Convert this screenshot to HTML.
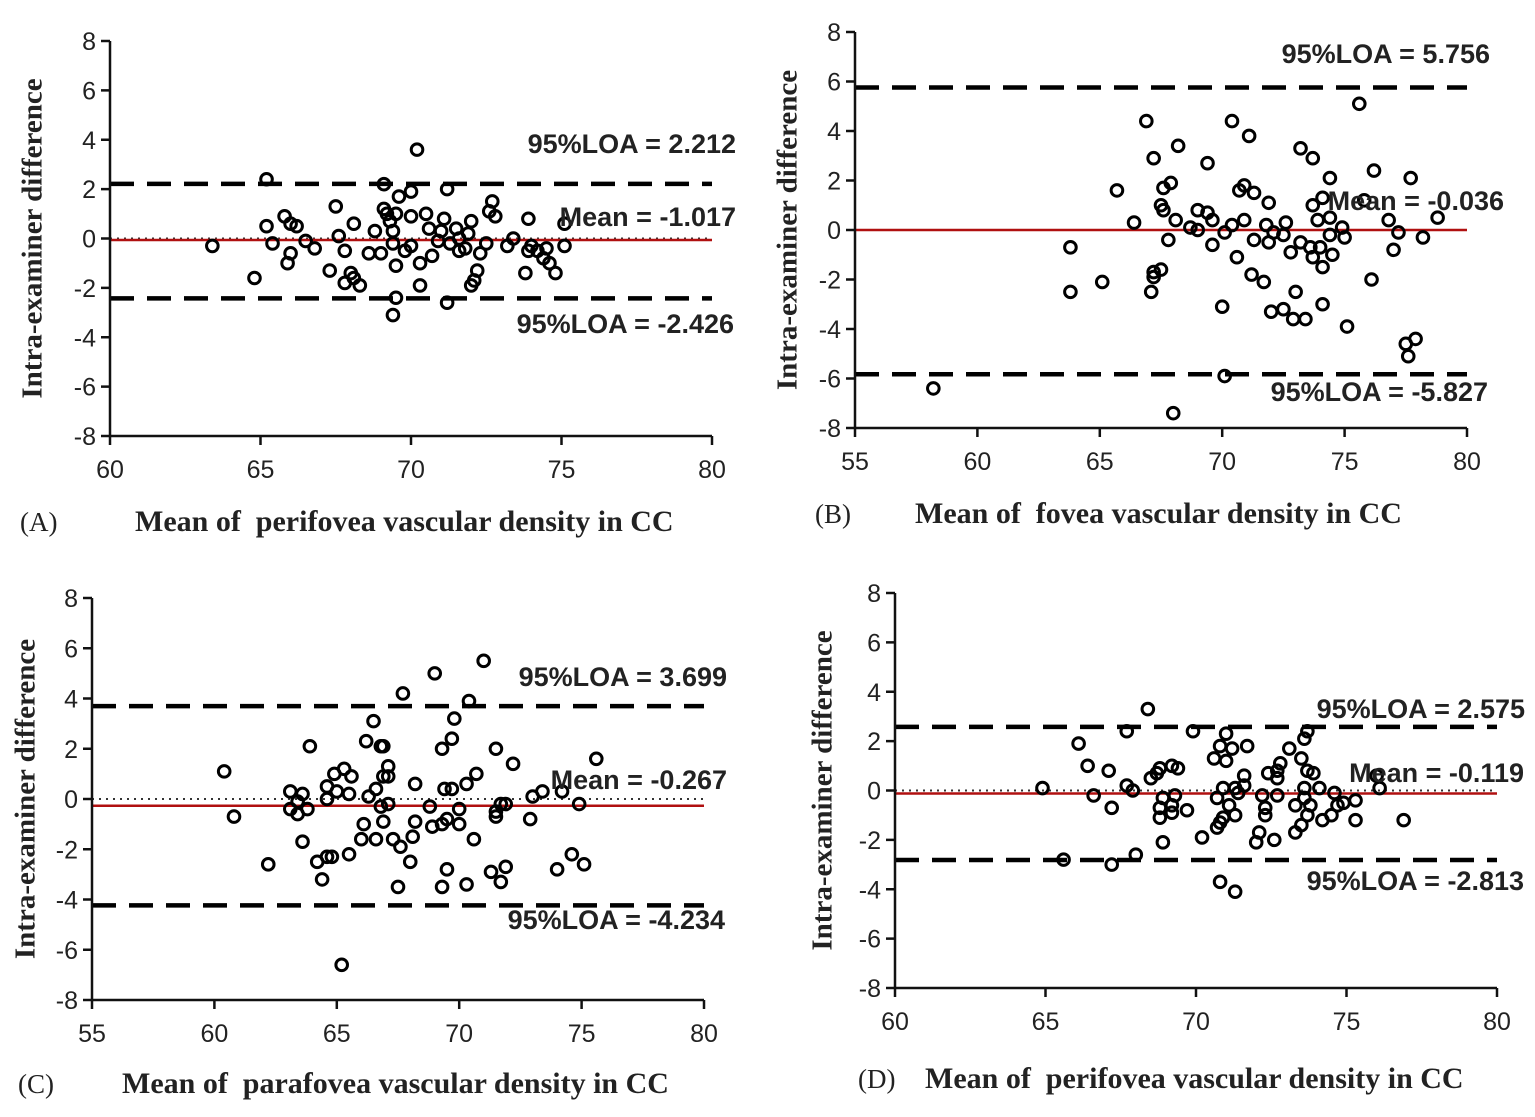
<!DOCTYPE html>
<html><head><meta charset="utf-8"><style>
body{margin:0;background:#fff;}
svg{display:block;}
</style></head><body>
<svg id="fig" width="1535" height="1117" viewBox="0 0 1535 1117" xmlns="http://www.w3.org/2000/svg"></svg>
<script>
const yTicks=[-8,-6,-4,-2,0,2,4,6,8];
const xTicksA=[60,65,70,75,80];
const xTicksB=[55,60,65,70,75,80];
const xTicksC=[55,60,65,70,75,80];
const xTicksD=[60,65,70,75,80];
const statsA=[2.212,-0.06,-2.426];
const statsB=[5.756,0,-5.827];
const statsC=[3.699,-0.267,-4.234];
const statsD=[2.575,-0.119,-2.813];
const labelsA=["95%LOA = 2.212","Mean = -1.017","95%LOA = -2.426"];
const labelsB=["95%LOA = 5.756","Mean = -0.036","95%LOA = -5.827"];
const labelsC=["95%LOA = 3.699","Mean = -0.267","95%LOA = -4.234"];
const labelsD=["95%LOA = 2.575","Mean = -0.119","95%LOA = -2.813"];
const ptsAx=[63.4,64.8,65.2,65.4,65.2,65.8,66.0,65.9,66.0,66.2,66.5,66.8,67.5,67.3,67.8,67.8,68.1,68.0,68.1,68.3,68.6,68.8,69.0,69.1,69.1,69.2,69.3,69.4,69.4,69.5,69.5,69.5,69.4,69.6,69.8,70.0,70.0,70.2,70.3,70.3,70.5,70.6,70.7,70.9,71.0,71.1,71.2,71.3,71.5,71.6,71.6,71.8,71.9,72.0,72.0,72.1,72.2,72.3,72.5,72.6,72.7,72.8,73.2,73.4,73.9,73.8,73.9,74.0,74.2,74.4,74.5,74.6,74.8,75.1,75.1,71.2,67.6,70.0];
const ptsAy=[-0.3,-1.6,0.5,-0.2,2.4,0.9,0.6,-1.0,-0.6,0.5,-0.1,-0.4,1.3,-1.3,-0.5,-1.8,0.6,-1.4,-1.6,-1.9,-0.6,0.3,-0.6,2.2,1.2,1.0,0.7,0.3,-0.2,1.0,-1.1,-2.4,-3.1,1.7,-0.5,0.9,1.9,3.6,-1.0,-1.9,1.0,0.4,-0.7,-0.1,0.3,0.8,2.0,-0.2,0.4,-0.5,0.0,-0.4,0.2,-1.9,0.7,-1.7,-1.3,-0.6,-0.2,1.1,1.5,0.9,-0.3,0.0,0.8,-1.4,-0.5,-0.3,-0.5,-0.8,-0.4,-1.0,-1.4,0.6,-0.3,-2.6,0.1,-0.3];
const ptsBx=[75.6,66.9,70.4,71.1,68.2,73.2,67.2,69.4,73.7,74.4,76.2,77.7,65.7,67.9,67.6,70.9,70.7,71.3,71.9,67.5,67.6,66.4,68.1,69.0,69.4,69.6,68.7,69.0,70.1,70.4,70.9,71.8,72.6,72.1,72.5,71.3,71.9,67.8,69.6,72.8,73.2,73.6,74.0,73.7,74.5,74.1,70.6,73.7,74.1,73.9,74.4,74.4,74.9,75.0,75.8,76.8,77.2,77.0,78.2,78.8,65.1,67.5,67.2,67.2,67.1,71.2,71.7,73.0,76.1,70.0,72.0,72.5,72.9,73.4,74.1,75.1,77.9,77.5,77.6,70.1,68.0,63.8,63.8,58.2];
const ptsBy=[5.1,4.4,4.4,3.8,3.4,3.3,2.9,2.7,2.9,2.1,2.4,2.1,1.6,1.9,1.7,1.8,1.6,1.5,1.1,1.0,0.8,0.3,0.4,0.8,0.7,0.4,0.1,0.0,-0.1,0.2,0.4,0.2,0.3,-0.1,-0.2,-0.4,-0.5,-0.4,-0.6,-0.9,-0.5,-0.7,-0.7,-1.1,-1.0,-1.5,-1.1,1.0,1.3,0.4,0.5,-0.2,0.1,-0.3,1.2,0.4,-0.1,-0.8,-0.3,0.5,-2.1,-1.6,-1.7,-1.9,-2.5,-1.8,-2.1,-2.5,-2.0,-3.1,-3.3,-3.2,-3.6,-3.6,-3.0,-3.9,-4.4,-4.6,-5.1,-5.9,-7.4,-0.7,-2.5,-6.4];
const ptsCx=[71.0,69.0,67.7,70.4,69.8,66.5,66.2,66.8,66.9,69.7,69.3,63.9,71.5,60.4,72.2,75.6,67.1,66.9,67.1,65.3,64.9,65.6,64.6,65.0,64.6,65.5,66.6,66.3,63.1,63.6,63.4,63.1,63.8,63.4,60.8,68.2,69.4,69.7,70.3,70.7,68.8,67.1,66.8,66.9,66.1,68.2,68.9,69.3,70.0,70.0,69.5,71.5,71.7,71.9,71.5,72.9,73.0,73.4,74.2,74.9,66.0,66.6,67.3,67.6,68.1,63.6,65.5,64.8,64.6,64.2,62.2,68.0,70.6,69.5,69.3,70.3,67.5,64.4,71.3,71.9,71.7,74.0,74.6,75.1,65.2];
const ptsCy=[5.5,5.0,4.2,3.9,3.2,3.1,2.3,2.1,2.1,2.4,2.0,2.1,2.0,1.1,1.4,1.6,1.3,0.9,0.9,1.2,1.0,0.9,0.5,0.3,0.0,0.2,0.4,0.1,0.3,0.2,-0.1,-0.4,-0.4,-0.6,-0.7,0.6,0.4,0.4,0.6,1.0,-0.3,-0.2,-0.3,-0.9,-1.0,-0.9,-1.1,-1.0,-0.4,-1.0,-0.8,-0.5,-0.2,-0.2,-0.7,-0.8,0.1,0.3,0.3,-0.2,-1.6,-1.6,-1.6,-1.9,-1.5,-1.7,-2.2,-2.3,-2.3,-2.5,-2.6,-2.5,-1.6,-2.8,-3.5,-3.4,-3.5,-3.2,-2.9,-2.7,-3.3,-2.8,-2.2,-2.6,-6.6];
const ptsDx=[68.4,67.7,69.9,66.1,71.0,73.7,70.8,71.2,71.7,73.1,73.6,70.6,71.0,66.4,67.1,73.5,72.8,72.7,72.4,72.7,71.6,73.7,73.9,68.8,69.2,69.4,68.5,68.7,64.9,67.7,67.9,66.6,67.2,68.9,69.3,68.8,69.2,68.8,69.2,69.7,68.9,70.9,71.3,71.6,71.4,70.7,71.1,71.3,70.9,70.8,70.7,70.2,72.1,72.0,72.6,72.2,72.3,72.3,72.7,73.3,73.6,73.6,73.8,73.7,73.5,73.3,74.1,74.6,74.9,74.7,74.5,74.2,75.3,75.3,76.0,76.1,76.9,65.6,67.2,68.0,70.8,71.3];
const ptsDy=[3.3,2.4,2.4,1.9,2.3,2.4,1.8,1.7,1.8,1.7,2.1,1.3,1.2,1.0,0.8,1.3,1.1,0.8,0.7,0.5,0.6,0.8,0.7,0.9,1.0,0.9,0.5,0.7,0.1,0.2,0.0,-0.2,-0.7,-0.3,-0.2,-0.7,-0.6,-1.1,-0.9,-0.8,-2.1,0.1,0.1,0.2,-0.1,-0.3,-0.6,-1.0,-1.1,-1.3,-1.5,-1.9,-1.7,-2.1,-2.0,-0.2,-0.7,-1.0,-0.2,-0.6,0.1,-0.3,-0.6,-1.0,-1.4,-1.7,0.1,-0.1,-0.5,-0.6,-1.0,-1.2,-0.4,-1.2,0.6,0.1,-1.2,-2.8,-3.0,-2.6,-3.7,-4.1];

const NS="http://www.w3.org/2000/svg";
const svg=document.getElementById('fig');
function mk(tag,attrs,parent){const e=document.createElementNS(NS,tag);for(const k in attrs)e.setAttribute(k,attrs[k]);(parent||svg).appendChild(e);return e;}

const panels=[
 {id:'a',x0:110,x1:712,yTop:41,yBot:436,xmin:60,xmax:80,xt:xTicksA,st:statsA,lb:labelsA,px:ptsAx,py:ptsAy,
  ytx:35,lblX:[736,736,734],lblY:[153,226,333],cap:'(A)',capX:20,capY:531,titX:135,title:'Mean of  perifovea vascular density in CC'},
 {id:'b',x0:855,x1:1467,yTop:32,yBot:428,xmin:55,xmax:80,xt:xTicksB,st:statsB,lb:labelsB,px:ptsBx,py:ptsBy,
  ytx:790,lblX:[1490,1504,1488],lblY:[63,210,401],cap:'(B)',capX:815,capY:523,titX:915,title:'Mean of  fovea vascular density in CC'},
 {id:'c',x0:92,x1:704,yTop:598,yBot:1000,xmin:55,xmax:80,xt:xTicksC,st:statsC,lb:labelsC,px:ptsCx,py:ptsCy,
  ytx:28,lblX:[727,727,725],lblY:[686,789,929],cap:'(C)',capX:18,capY:1093,titX:122,title:'Mean of  parafovea vascular density in CC'},
 {id:'d',x0:895,x1:1497,yTop:593,yBot:988,xmin:60,xmax:80,xt:xTicksD,st:statsD,lb:labelsD,px:ptsDx,py:ptsDy,
  ytx:825,lblX:[1525,1524,1524],lblY:[718,782,890],cap:'(D)',capX:858,capY:1088,titX:925,title:'Mean of  perifovea vascular density in CC'}
];

panels.forEach(p=>{
 const g=mk('g',{});
 
 
 const sx=v=>p.x0+(v-p.xmin)/(p.xmax-p.xmin)*(p.x1-p.x0);
 const sy=v=>p.yBot-(v+8)/16*(p.yBot-p.yTop);
 const z=mk('line',{x1:p.x0,x2:p.x1,y1:sy(0),y2:sy(0),stroke:'#333','stroke-width':2,'stroke-dasharray':'2 5'},g);
 
 
 [0,2].forEach(i=>{
  const l=mk('line',{x1:p.x0,x2:p.x1,y1:sy(p.st[i]),y2:sy(p.st[i]),stroke:'#000','stroke-width':4.5,'stroke-dasharray':'24 13'},g);
  
  
 });
 const m=mk('line',{x1:p.x0,x2:p.x1,y1:sy(p.st[1]),y2:sy(p.st[1]),stroke:'#b01010','stroke-width':2.5},g);
 
 
 for(let i=0;i<p.px.length;i++){
  const c=mk('circle',{cx:sx(p.px[i]),cy:sy(p.py[i]),r:5.8,fill:'none',stroke:'#000','stroke-width':3},g);
  
  
 }
 const ya=mk('line',{x1:p.x0,x2:p.x0,y1:p.yTop,y2:p.yBot,stroke:'#111','stroke-width':2.5},g);
 
 
 const xa=mk('line',{x1:p.x0,x2:p.x1,y1:p.yBot,y2:p.yBot,stroke:'#111','stroke-width':2.5},g);
 
 
 yTicks.forEach(t=>{
  mk('line',{x1:p.x0-9,x2:p.x0,y1:sy(t),y2:sy(t),stroke:'#111','stroke-width':2.5},g);
  const tx=mk('text',{x:p.x0-14,y:sy(t)+9,'text-anchor':'end','font-family':'Liberation Sans, sans-serif','font-size':25,fill:'#222'},g);
  tx.textContent=t;
  
  
 });
 p.xt.forEach(t=>{
  mk('line',{x1:sx(t),x2:sx(t),y1:p.yBot,y2:p.yBot+9,stroke:'#111','stroke-width':2.5},g);
  const tx=mk('text',{x:sx(t),y:p.yBot+42,'text-anchor':'middle','font-family':'Liberation Sans, sans-serif','font-size':25,fill:'#222'},g);
  tx.textContent=t;
  
  
 });
 for(let i=0;i<3;i++){
  const tx=mk('text',{x:p.lblX[i],y:p.lblY[i],'text-anchor':'end','font-family':'Liberation Sans, sans-serif','font-size':27,'font-weight':'bold',fill:'#222'},g);
  tx.textContent=p.lb[i];
  
  
 }
 const yc=(p.yTop+p.yBot)/2;
 const yt=mk('text',{x:p.ytx,y:yc,'text-anchor':'middle','font-family':'Liberation Serif, serif','font-size':29,'font-weight':'bold',fill:'#222',transform:`rotate(-90 ${p.ytx} ${yc})`,'dominant-baseline':'middle'},g);
 yt.textContent='Intra-examiner difference';
 
 
 const cp=mk('text',{x:p.capX,y:p.capY,'font-family':'Liberation Serif, serif','font-size':27,fill:'#222'},g);
 cp.textContent=p.cap;
 
 
 const xt=mk('text',{x:p.titX,y:p.capY,'font-family':'Liberation Serif, serif','font-size':30,'font-weight':'bold',fill:'#222'},g);
 xt.setAttribute('style','white-space:pre');
 xt.textContent=p.title;
 
 
});
</script>
</body></html>
